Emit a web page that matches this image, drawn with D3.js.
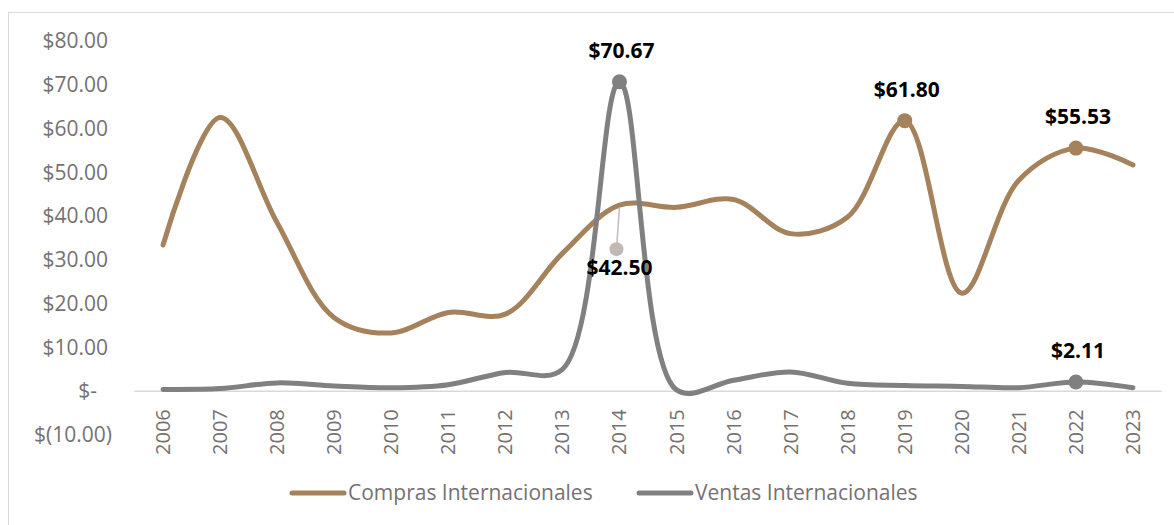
<!DOCTYPE html>
<html>
<head>
<meta charset="utf-8">
<script src="https://cdn.jsdelivr.net/npm/d3@7"></script>
<style>
    body { margin: 0; background: #fff; }
    text { font-family: "Open Sans", "Noto Sans", sans-serif; }
</style>
</head>
<body>
<div class="chart"></div>
<script>
const years = [2006, 2007, 2008, 2009, 2010, 2011, 2012, 2013, 2014, 2015, 2016, 2017, 2018, 2019, 2020, 2021, 2022, 2023];
const compras = [33.4, 62.5, 38.5, 16.8, 13.3, 18.0, 17.6, 31.5, 42.50, 42.0, 43.8, 36.0, 39.8, 61.80, 22.4, 48.2, 55.53, 51.7];
const ventas = [0.4, 0.6, 1.9, 1.2, 0.8, 1.5, 4.3, 5.0, 70.67, 0.3, 2.5, 4.4, 1.8, 1.3, 1.1, 0.8, 2.11, 0.8];
const yTicks = [-10, 0, 10, 20, 30, 40, 50, 60, 70, 80];
const seriesNames = ["Compras Internacionales", "Ventas Internacionales"];

// which points get a marker + label
const comprasLabels = [2014, 2019, 2022];
const ventasLabels = [2014, 2022];

const width = 1174;
const height = 525;
const brown = '#a5825b';
const grey = '#808080';
const axisText = '#767171';

const svg = d3.select('.chart')
    .append('svg')
    .attr('width', width)
    .attr('height', height);

// chart frame
svg.append('rect')
    .attr('x', 8.5)
    .attr('y', 12.5)
    .attr('width', width)
    .attr('height', height)
    .attr('fill', 'none')
    .attr('stroke', '#d9d9d9');

const x = d3.scalePoint()
    .domain(years)
    .range([134.5, 1161.5])
    .padding(0.5);

const y = d3.scaleLinear()
    .domain([-10, 80])
    .range([435, 41]);

// y axis labels (no line)
const money = d => {
    if (d === 0) return '$-';
    if (d < 0) return `$(${Math.abs(d).toFixed(2)})`;
    return `$${d.toFixed(2)}`;
};
const yAxis = svg.append('g')
    .attr('transform', 'translate(112,0)')
    .call(d3.axisLeft(y).tickValues(yTicks).tickFormat(money).tickSize(0).tickPadding(0));
yAxis.select('.domain').remove();
yAxis.selectAll('text')
    .attr('font-size', 21)
    .attr('fill', axisText)
    .attr('dx', d => d < 0 ? 0 : (d === 0 ? -15 : -4))
    .attr('font-family', '"Open Sans", sans-serif');

// zero line
svg.append('line')
    .attr('x1', x.range()[0])
    .attr('x2', x.range()[1])
    .attr('y1', y(0))
    .attr('y2', y(0))
    .attr('stroke', '#d9d9d9')
    .attr('stroke-width', 1.5);

// x labels, rotated
svg.selectAll('text.year')
    .data(years)
    .enter()
    .append('text')
    .attr('class', 'year')
    .attr('transform', d => `translate(${x(d)},${y(0) + 18}) rotate(-90)`)
    .attr('text-anchor', 'end')
    .attr('dy', '0.35em')
    .attr('font-size', 20)
    .attr('fill', axisText)
    .text(d => d);

const line = d3.line()
    .x((d, i) => x(years[i]))
    .y(d => y(d))
    .curve(d3.curveCatmullRom);

function drawSeries(values, color, labelYears) {
    svg.append('path')
        .datum(values)
        .attr('d', line)
        .attr('fill', 'none')
        .attr('stroke', color)
        .attr('stroke-width', 5)
        .attr('stroke-linecap', 'round')
        .attr('stroke-linejoin', 'round');
    const pts = years.map((yr, i) => ({year: yr, value: values[i]}))
        .filter(d => labelYears.includes(d.year));
    return pts;
}

const comprasPts = drawSeries(compras, brown, comprasLabels);
const ventasPts = drawSeries(ventas, grey, ventasLabels);

// markers: compras 2014 has no marker, its label hangs below with a leader line
svg.selectAll('circle.compras')
    .data(comprasPts.filter(d => d.year !== 2014))
    .enter()
    .append('circle')
    .attr('class', 'compras')
    .attr('cx', d => x(d.year))
    .attr('cy', d => y(d.value))
    .attr('r', 7.5)
    .attr('fill', brown);

svg.selectAll('circle.ventas')
    .data(ventasPts)
    .enter()
    .append('circle')
    .attr('class', 'ventas')
    .attr('cx', d => x(d.year))
    .attr('cy', d => y(d.value))
    .attr('r', 7.5)
    .attr('fill', grey);

// leader line for $42.50
const lead = comprasPts.find(d => d.year === 2014);
svg.append('line')
    .attr('x1', x(lead.year))
    .attr('y1', y(lead.value) + 2)
    .attr('x2', x(lead.year) - 3)
    .attr('y2', y(lead.value) + 44)
    .attr('stroke', '#bfbfbf')
    .attr('stroke-width', 1.5);
svg.append('circle')
    .attr('cx', x(lead.year) - 3)
    .attr('cy', y(lead.value) + 44)
    .attr('r', 7)
    .attr('fill', '#bfbab5');

const labels = comprasPts.concat(ventasPts);
svg.selectAll('text.label')
    .data(labels)
    .enter()
    .append('text')
    .attr('class', 'label')
    .attr('x', d => x(d.year) + (d === lead ? 0 : 2))
    .attr('y', d => y(d.value) + (d === lead ? 70 : -24))
    .attr('text-anchor', 'middle')
    .attr('font-size', 21)
    .attr('font-weight', 'bold')
    .attr('fill', '#000')
    .text(d => '$' + d.value.toFixed(2));

// legend
const legend = svg.selectAll('g.legend')
    .data(seriesNames)
    .enter()
    .append('g')
    .attr('class', 'legend')
    .attr('transform', (d, i) => `translate(${i === 0 ? 290 : 637},493)`);
legend.append('line')
    .attr('x1', 2)
    .attr('x2', 54)
    .attr('stroke', (d, i) => i === 0 ? brown : grey)
    .attr('stroke-width', 5)
    .attr('stroke-linecap', 'round');
legend.append('text')
    .attr('x', 58)
    .attr('dy', '0.35em')
    .attr('font-size', 21)
    .attr('fill', axisText)
    .text(d => d);
</script>
</body>
</html>
